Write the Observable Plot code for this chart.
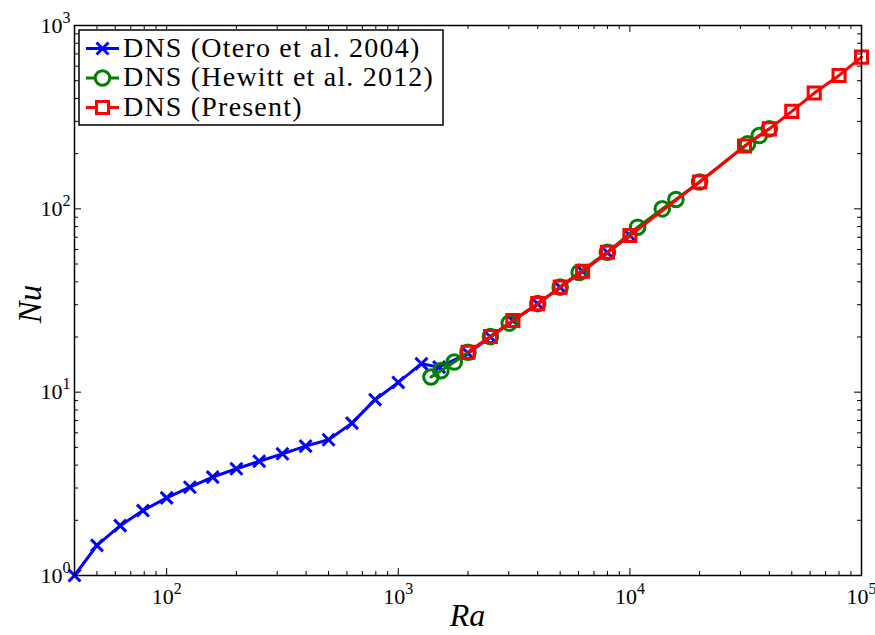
<!DOCTYPE html>
<html>
<head>
<meta charset="utf-8">
<script src="https://cdn.jsdelivr.net/npm/d3@7"></script>
<script src="https://cdn.jsdelivr.net/npm/@observablehq/plot@0.6"></script>
<style>
  html, body { margin: 0; padding: 0; background: white; }
  #chart { width: 875px; height: 635px; }
</style>
</head>
<body>
<div id="chart"></div>
<script>
// ---- data ----
const otRa = [40, 50, 63, 79, 100, 126, 158, 200, 251, 316, 398, 500, 631, 794, 1000, 1259, 1500, 2000, 2500, 3125, 4000, 5000, 6250, 8000, 10000];
const otNu = [1.0, 1.46, 1.87, 2.26, 2.65, 3.03, 3.44, 3.82, 4.2, 4.61, 5.08, 5.5, 6.78, 9.1, 11.3, 14.3, 13.7, 16.3, 20.0, 24.5, 30.3, 37.3, 45.6, 57.8, 71.5];

const hwRa = [1384, 1528, 1745, 2000, 2500, 3014, 4000, 5000, 6040, 8000, 10800, 13800, 15800, 20000, 32200, 36200, 40000];
const hwNu = [12.1, 13.1, 14.6, 16.5, 20.1, 23.8, 30.4, 37.4, 45.0, 58.0, 79.4, 100, 112.5, 140, 226, 251, 273];

const prRa = [2000, 2500, 3125, 4000, 5000, 6250, 8000, 10000, 20000, 31250, 40000, 50000, 62500, 80000, 100000];
const prNu = [16.5, 20.1, 24.6, 30.4, 37.4, 45.7, 58.0, 71.6, 140, 220, 273, 340, 428, 534, 672];

const seriesLabels = ["DNS (Otero et al. 2004)", "DNS (Hewitt et al. 2012)", "DNS (Present)"];
const seriesColors = ["#0000ff", "#008000", "#ff0000"];

const xMajor = [100, 1000, 10000, 100000];
const xTickLabels = ["10^2", "10^3", "10^4", "10^5"];
const yMajor = [1, 10, 100, 1000];
const yTickLabels = ["10^0", "10^1", "10^2", "10^3"];
const xTitle = "Ra";
const yTitle = "Nu";

// minor tick values (2..9 in each decade)
const xMinor = [];
for (const dec of [10, 100, 1000, 10000]) for (let k = 2; k <= 9; k++) { const v = k * dec; if (v > 40 && v < 100000) xMinor.push(v); }
const yMinor = [];
for (const dec of [1, 10, 100]) for (let k = 2; k <= 9; k++) yMinor.push(k * dec);

const toRows = (xs, ys) => xs.map((x, i) => ({x, y: ys[i]}));
const otero = toRows(otRa, otNu);
const hewitt = toRows(hwRa, hwNu);
const present = toRows(prRa, prNu);

// ---- layout ----
const W = 875, H = 635;
const mL = 74, mR = 14, mT = 25, mB = 60;
const pw = W - mL - mR, ph = H - mT - mB;
const major = 7, minor = 4;
const FONT = "Liberation Serif, DejaVu Serif, serif";

const rX = 5.5, rC = 7.3, rS = 6.8;

const xl = d => xTickLabels[xMajor.indexOf(d)];
const yl = d => yTickLabels[yMajor.indexOf(d)];

const plot = Plot.plot({
  width: W, height: H,
  marginLeft: mL, marginRight: mR, marginTop: mT, marginBottom: mB,
  x: {type: "log", domain: [40, 100000], axis: null},
  y: {type: "log", domain: [1, 1000], axis: null},
  style: {fontFamily: FONT, background: "white", overflow: "visible"},
  marks: [
    // ticks (inward, all four sides)
    Plot.tickX(xMajor, {x: d => d, insetTop: ph - major, stroke: "black", strokeWidth: 1}),
    Plot.tickX(xMajor, {x: d => d, insetBottom: ph - major, stroke: "black", strokeWidth: 1}),
    Plot.tickX(xMinor, {x: d => d, insetTop: ph - minor, stroke: "black", strokeWidth: 1}),
    Plot.tickX(xMinor, {x: d => d, insetBottom: ph - minor, stroke: "black", strokeWidth: 1}),
    Plot.tickY(yMajor, {y: d => d, insetRight: pw - major, stroke: "black", strokeWidth: 1}),
    Plot.tickY(yMajor, {y: d => d, insetLeft: pw - major, stroke: "black", strokeWidth: 1}),
    Plot.tickY(yMinor, {y: d => d, insetRight: pw - minor, stroke: "black", strokeWidth: 1}),
    Plot.tickY(yMinor, {y: d => d, insetLeft: pw - minor, stroke: "black", strokeWidth: 1}),
    // tick labels
    Plot.text(xMajor, {x: d => d, frameAnchor: "bottom", dy: 28, text: xl, fontSize: 22, fill: "black", textAnchor: "middle"}),
    Plot.text(yMajor, {y: d => d, frameAnchor: "left", dx: -4, text: yl, fontSize: 22, fill: "black", textAnchor: "end"}),
    // series
    Plot.line(otero, {x: "x", y: "y", stroke: seriesColors[0], strokeWidth: 3}),
    Plot.dot(otero, {x: "x", y: "y", symbol: "times", r: rX, stroke: seriesColors[0], strokeWidth: 3}),
    Plot.line(hewitt, {x: "x", y: "y", stroke: seriesColors[1], strokeWidth: 3}),
    Plot.dot(hewitt, {x: "x", y: "y", symbol: "circle", r: rC, stroke: seriesColors[1], fill: "none", strokeWidth: 3}),
    Plot.line(present, {x: "x", y: "y", stroke: seriesColors[2], strokeWidth: 3}),
    Plot.dot(present, {x: "x", y: "y", symbol: "square", r: rS, stroke: seriesColors[2], fill: "none", strokeWidth: 3}),
    Plot.frame({stroke: "black", strokeWidth: 1.5})
  ]
});

// superscripts in tick labels
const NS = "http://www.w3.org/2000/svg";
plot.querySelectorAll("text").forEach(t => {
  const m = t.textContent.match(/^10\^(\d)$/);
  if (m) {
    t.textContent = "10";
    const ts = document.createElementNS(NS, "tspan");
    ts.setAttribute("dy", "-10");
    ts.setAttribute("font-size", "16");
    ts.textContent = m[1];
    t.appendChild(ts);
  }
});

const svg = d3.select(plot);

// axis titles
svg.append("text").attr("x", mL + pw / 2).attr("y", 626)
  .attr("text-anchor", "middle").attr("font-family", FONT).attr("font-style", "italic")
  .attr("font-size", 32).attr("fill", "black").text(xTitle);
svg.append("text").attr("transform", `translate(41,${mT + ph / 2 + 4}) rotate(-90)`)
  .attr("text-anchor", "middle").attr("font-family", FONT).attr("font-style", "italic")
  .attr("font-size", 33).attr("fill", "black").text(yTitle);

// legend (inside the plot, top-left)
const lg = svg.append("g").attr("font-family", FONT).attr("text-anchor", "start");
lg.append("rect").attr("x", 79).attr("y", 30).attr("width", 364).attr("height", 95)
  .attr("fill", "white").attr("stroke", "black").attr("stroke-width", 1.5);
const syms = [
  d3.symbol(d3.symbolTimes, Math.PI * rX * rX)(),
  d3.symbol(d3.symbolCircle, Math.PI * rC * rC)(),
  d3.symbol(d3.symbolSquare, Math.PI * rS * rS)()
];
seriesLabels.forEach((lab, i) => {
  const y = 48.5 + i * 29.5;
  lg.append("line").attr("x1", 86).attr("x2", 119).attr("y1", y).attr("y2", y)
    .attr("stroke", seriesColors[i]).attr("stroke-width", 3);
  lg.append("path").attr("d", syms[i]).attr("transform", `translate(102.5,${y})`)
    .attr("fill", i === 0 ? "none" : "white").attr("stroke", seriesColors[i]).attr("stroke-width", 3);
  lg.append("text").attr("x", 123).attr("y", y + 8).attr("font-size", 28)
    .attr("text-anchor", "start").attr("letter-spacing", "1.2px").attr("fill", "black").text(lab);
});

document.getElementById("chart").appendChild(plot);
</script>
</body>
</html>
